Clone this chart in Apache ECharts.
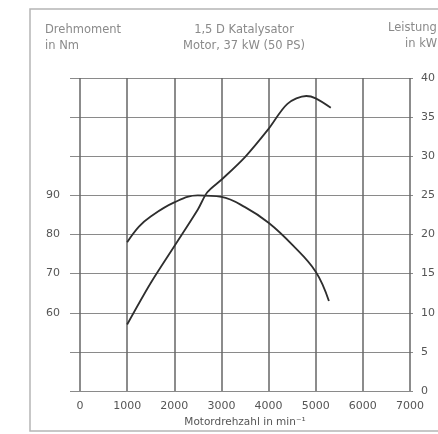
<!DOCTYPE html>
<html><head><meta charset="utf-8">
<script src="https://cdn.jsdelivr.net/npm/echarts@6/dist/echarts.min.js"></script>
<style>html,body{margin:0;padding:0;background:#fff}#c{width:438px;height:434px}</style>
</head><body><div id="c"></div>
<script>
var rpmTicks = [0,1000,2000,3000,4000,5000,6000,7000];
var torqueLabels = [60,70,80,90];
var powerTicks = [0,5,10,15,20,25,30,35,40];
var torqueRpm = [1000,1250,1500,2000,2500,3000,3500,4000,4500,5000,5280];
var torqueNm  = [78,82,84.6,88.2,90,89.6,87,83,77.4,70.5,63];
var powerRpm = [1000,1500,2000,2500,2700,3000,3500,4000,4400,4800,5000,5320];
var powerKw  = [8.5,13.8,18.5,23.2,25.4,27,29.9,33.5,36.7,37.7,37.4,36.2];

var chart = echarts.init(document.getElementById('c'));
var txt = '#8a8a8a', lab = '#555';
var FF = '"DejaVu Sans"';
function pairs(xs, ys){ return xs.map(function(x,i){return [x, ys[i]];}); }
chart.setOption({
  animation:false,
  grid:[
    {left:70, right:18, top:78, bottom:43},
    {left:80, right:28, top:78, bottom:43}
  ],
  xAxis:[
    {gridIndex:0, type:'value', min:0, max:7000, show:false, splitLine:{show:false}},
    {gridIndex:1, type:'value', min:0, max:7000, interval:1000,
     axisLine:{show:false}, axisTick:{show:false},
     axisLabel:{color:lab, fontSize:11, fontFamily:FF, margin:10,
       formatter:function(v){ return rpmTicks.indexOf(v) >= 0 ? String(v) : ''; }},
     splitLine:{show:true, lineStyle:{color:'#666', width:1.5}},
     name:'Motordrehzahl in min\u207B\u00B9', nameLocation:'middle', nameGap:25,
     nameTextStyle:{color:lab, fontSize:10.5, fontFamily:FF}}
  ],
  yAxis:[
    {gridIndex:0, type:'value', min:0, max:40, interval:5, position:'right',
     axisLine:{show:false}, axisTick:{show:false},
     axisLabel:{color:lab, fontSize:11, fontFamily:FF, margin:8,
       formatter:function(v){ return powerTicks.indexOf(v) >= 0 ? String(v) : ''; }},
     splitLine:{show:true, lineStyle:{color:'#8a8a8a', width:1.2}}},
    {gridIndex:0, type:'value', min:40, max:120, interval:10, position:'left',
     axisLine:{show:false}, axisTick:{show:false},
     axisLabel:{color:lab, fontSize:11, fontFamily:FF, margin:10,
       formatter:function(v){ return torqueLabels.indexOf(v) >= 0 ? String(v) : ''; }},
     splitLine:{show:false}},
    {gridIndex:1, type:'value', min:0, max:40, show:false, splitLine:{show:false}},
    {gridIndex:1, type:'value', min:40, max:120, show:false, splitLine:{show:false}}
  ],
  series:[
    {type:'line', xAxisIndex:1, yAxisIndex:3, data:pairs(torqueRpm, torqueNm), smooth:0.4,
     symbol:'none', lineStyle:{color:'#2e2e2e', width:1.8}},
    {type:'line', xAxisIndex:1, yAxisIndex:2, data:pairs(powerRpm, powerKw), smooth:0.3,
     symbol:'none', lineStyle:{color:'#2e2e2e', width:1.8}}
  ],
  graphic:[
    {type:'polyline', shape:{points:[[445,9],[30,9],[30,431],[445,431]]},
     style:{stroke:'#b5b5b5', lineWidth:1.5, fill:null}, silent:true},
    {type:'text', x:45, y:22, style:{text:'Drehmoment\nin Nm', fill:txt, font:'11.5px ' + FF, lineHeight:16}},
    {type:'text', x:244, y:22, style:{text:'1,5 D Katalysator\nMotor, 37 kW (50 PS)', fill:txt, font:'11.5px ' + FF, lineHeight:16, align:'center'}},
    {type:'text', x:388, y:22, style:{text:'Leistung', fill:txt, font:'11.5px ' + FF}},
    {type:'text', x:405, y:38, style:{text:'in kW', fill:txt, font:'11.5px ' + FF}}
  ]
});
</script></body></html>
